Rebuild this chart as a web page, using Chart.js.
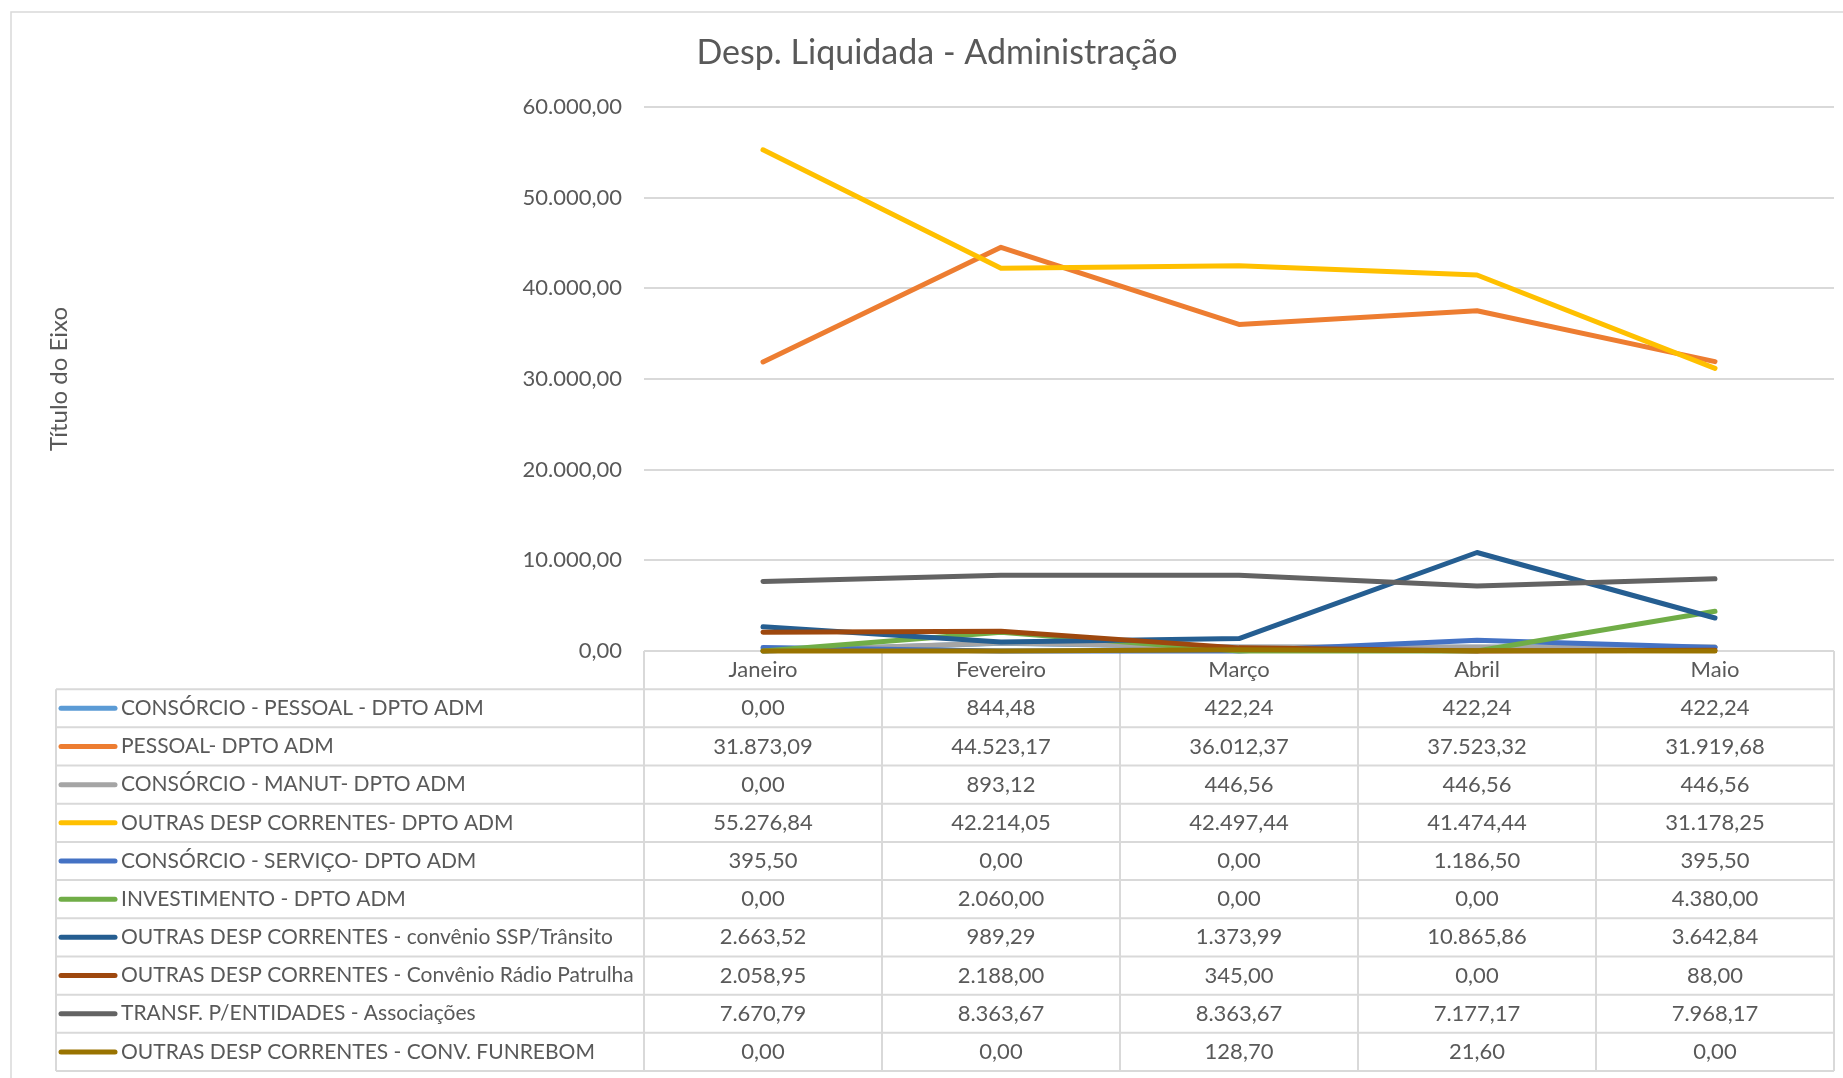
<!DOCTYPE html>
<html><head><meta charset="utf-8">
<script src="https://cdn.jsdelivr.net/npm/chart.js@4.4.0/dist/chart.umd.min.js"></script>
<style>html,body{margin:0;padding:0;background:#fff;overflow:hidden}canvas{display:block}</style>
</head><body>
<canvas id="c" width="1843" height="1078"></canvas>
<script>
// ---- data ----
const months = ['Janeiro', 'Fevereiro', 'Março', 'Abril', 'Maio'];
const seriesNames = [
  'CONSÓRCIO - PESSOAL - DPTO ADM',
  'PESSOAL- DPTO ADM',
  'CONSÓRCIO - MANUT- DPTO ADM',
  'OUTRAS DESP CORRENTES- DPTO ADM',
  'CONSÓRCIO - SERVIÇO- DPTO ADM',
  'INVESTIMENTO - DPTO ADM',
  'OUTRAS DESP CORRENTES - convênio SSP/Trânsito',
  'OUTRAS DESP CORRENTES - Convênio Rádio Patrulha',
  'TRANSF. P/ENTIDADES - Associações',
  'OUTRAS DESP CORRENTES - CONV. FUNREBOM'
];
const consorcioPessoal = [0, 844.48, 422.24, 422.24, 422.24];
const pessoal = [31873.09, 44523.17, 36012.37, 37523.32, 31919.68];
const consorcioManut = [0, 893.12, 446.56, 446.56, 446.56];
const outrasDespCorrentes = [55276.84, 42214.05, 42497.44, 41474.44, 31178.25];
const consorcioServico = [395.50, 0, 0, 1186.50, 395.50];
const investimento = [0, 2060.00, 0, 0, 4380.00];
const convenioSSP = [2663.52, 989.29, 1373.99, 10865.86, 3642.84];
const convenioRadioPatrulha = [2058.95, 2188.00, 345.00, 0, 88.00];
const transfEntidades = [7670.79, 8363.67, 8363.67, 7177.17, 7968.17];
const convFunrebom = [0, 0, 128.70, 21.60, 0];
const yTicks = [0, 10000, 20000, 30000, 40000, 50000, 60000];
const chartTitle = 'Desp. Liquidada - Administração';
const yAxisTitle = 'Título do Eixo';

const seriesValues = [consorcioPessoal, pessoal, consorcioManut, outrasDespCorrentes, consorcioServico,
  investimento, convenioSSP, convenioRadioPatrulha, transfEntidades, convFunrebom];
const colors = ['#5B9BD5', '#ED7D31', '#A5A5A5', '#FFC000', '#4472C4', '#70AD47', '#255E91', '#9E480E', '#636363', '#997300'];

const FONT = 'Lato, "Open Sans", sans-serif';
const TXT = '#595959';
const GRID = '#d9d9d9';

function fmt(v) {
  const neg = v < 0; v = Math.abs(v);
  let [i, d] = v.toFixed(2).split('.');
  i = i.replace(/\B(?=(\d{3})+(?!\d))/g, '.');
  return (neg ? '-' : '') + i + ',' + d;
}

const framePlugin = {
  id: 'frame',
  beforeDraw(chart) {
    const c = chart.ctx;
    c.save();
    c.fillStyle = '#fff';
    c.fillRect(0, 0, chart.width, chart.height);
    c.strokeStyle = GRID; c.lineWidth = 1.5;
    c.beginPath();
    c.moveTo(11, 1078); c.lineTo(11, 12); c.lineTo(1843, 12);
    c.stroke();
    c.fillStyle = TXT;
    c.font = '34px ' + FONT;
    c.textAlign = 'center'; c.textBaseline = 'middle';
    c.fillText(chartTitle, 937, 53);
    c.restore();
  },
  beforeDatasetsDraw(chart) {
    const c = chart.ctx, x = chart.scales.x, area = chart.chartArea;
    const top = area.bottom, bottom = 1071, tableLeft = 56;
    const nRows = seriesNames.length + 1;
    const rh = (bottom - top) / nRows;
    const band = (area.right - area.left) / months.length;
    c.save();
    c.strokeStyle = GRID; c.lineWidth = 2;
    c.beginPath();
    c.moveTo(area.left, top); c.lineTo(area.right, top);
    for (let r = 1; r <= nRows; r++) {
      const y = top + r * rh;
      c.moveTo(tableLeft, y); c.lineTo(area.right, y);
    }
    c.moveTo(tableLeft, top + rh); c.lineTo(tableLeft, bottom);
    for (let k = 0; k <= months.length; k++) {
      const xx = area.left + k * band;
      c.moveTo(xx, top); c.lineTo(xx, bottom);
    }
    c.stroke();
    c.fillStyle = TXT;
    c.textBaseline = 'middle'; c.textAlign = 'center';
    c.font = '22px ' + FONT;
    months.forEach((m, i) => c.fillText(m, x.getPixelForValue(i), top + rh / 2));
    seriesNames.forEach((name, s) => {
      const y = top + (s + 1.5) * rh;
      c.strokeStyle = colors[s]; c.lineWidth = 5; c.lineCap = 'round';
      c.beginPath(); c.moveTo(61, y); c.lineTo(115, y); c.stroke();
      c.textAlign = 'left';
      c.font = '21px ' + FONT;
      c.fillText(name, 121, y);
      c.textAlign = 'center';
      c.font = '22px ' + FONT;
      seriesValues[s].forEach((v, i) => c.fillText(fmt(v), x.getPixelForValue(i), y));
    });
    c.restore();
  }
};

new Chart(document.getElementById('c'), {
  type: 'line',
  data: {
    labels: months,
    datasets: seriesNames.map((name, i) => ({
      label: name,
      data: seriesValues[i],
      borderColor: colors[i],
      backgroundColor: colors[i],
      borderWidth: 5,
      pointRadius: 0,
      tension: 0,
      fill: false,
      borderCapStyle: 'round',
      borderJoinStyle: 'round',
      order: seriesNames.length - i,
      clip: 6
    }))
  },
  options: {
    responsive: false,
    animation: false,
    devicePixelRatio: 1,
    layout: { padding: { left: 40, right: 9, top: 107, bottom: 427 } },
    plugins: { legend: { display: false }, title: { display: false }, tooltip: { enabled: false } },
    scales: {
      x: { display: false, offset: true },
      y: {
        min: 0, max: 60000,
        afterFit(s) { s.width = 604; },
        afterBuildTicks(s) { s.ticks = yTicks.map(v => ({ value: v })); },
        ticks: { padding: 22, color: TXT, font: { family: FONT, size: 22 }, callback: v => fmt(v) },
        grid: { color: GRID, lineWidth: 2, drawTicks: false },
        border: { display: false },
        title: { display: true, text: yAxisTitle, color: TXT, font: { family: FONT, size: 24 }, padding: { top: 5, bottom: 0 } }
      }
    }
  },
  plugins: [framePlugin]
});
</script>
</body></html>
